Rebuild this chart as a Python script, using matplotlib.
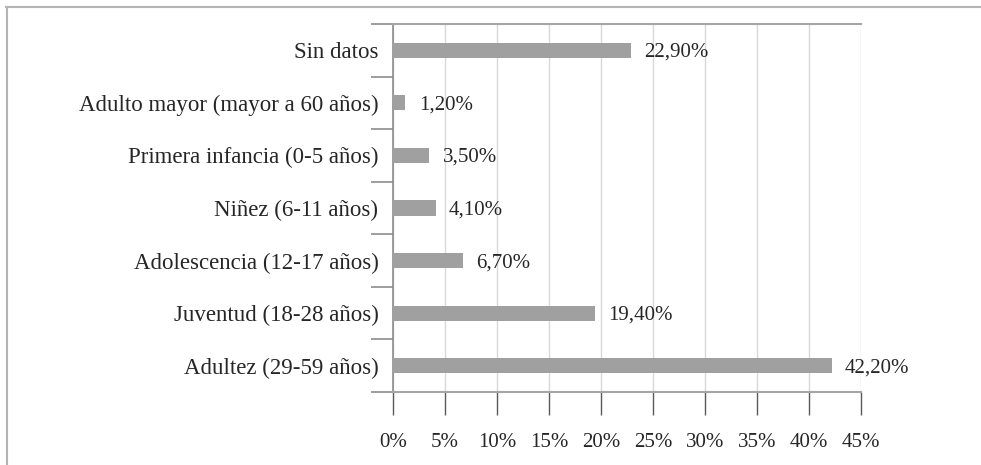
import matplotlib.pyplot as plt
from matplotlib.lines import Line2D
from matplotlib.ticker import FixedLocator

categorias = ['Adultez (29-59 años)', 'Juventud (18-28 años)', 'Adolescencia (12-17 años)',
              'Niñez (6-11 años)', 'Primera infancia (0-5 años)',
              'Adulto mayor (mayor a 60 años)', 'Sin datos']
valores = [42.2, 19.4, 6.7, 4.1, 3.5, 1.2, 22.9]
etiquetas_x = ['0%', '5%', '10%', '15%', '20%', '25%', '30%', '35%', '40%', '45%']

plt.rcParams['font.family'] = ['Liberation Serif', 'DejaVu Serif']

fig = plt.figure(figsize=(9.81, 4.65), dpi=100)
ax = fig.add_axes([393/981, 1-392/465, 468/981, 368/465])

y = range(len(categorias))
ax.barh(y, valores, height=0.29, color='#a0a0a0', zorder=3)
for i, v in enumerate(valores):
    ax.annotate(('%.2f%%' % v).replace('.', ','), (v, i), xytext=(9.5, -1.5),
                textcoords='offset points', va='center', ha='left',
                fontsize=15, color='#262626')

ax.set_xlim(0, 45)
ax.set_ylim(-0.5, len(categorias) - 0.5)
ax.set_xticks([5 * k for k in range(len(etiquetas_x))])
ax.set_xticklabels(etiquetas_x, fontsize=15, color='#262626')
ax.set_yticks(list(y))
ax.set_yticklabels(categorias, fontsize=16.5, color='#262626')
ax.yaxis.set_minor_locator(FixedLocator([k - 0.5 for k in range(len(categorias) + 1)]))

ax.tick_params(axis='y', which='major', length=0, pad=10.5)
ax.tick_params(axis='y', which='minor', length=15.8, width=1.2, color='#8c8c8c')
ax.tick_params(axis='x', length=16.5, width=1, color='#595959', pad=13)

ax.grid(axis='x', color='#d9d9d9', linewidth=1, zorder=0)
for s in ['top', 'bottom']:
    ax.spines[s].set_color('#a6a6a6')
    ax.spines[s].set_linewidth(1.5)
ax.spines['left'].set_color('#8c8c8c')
ax.spines['left'].set_linewidth(1.2)
ax.spines['right'].set_visible(False)

# marco exterior
fig.add_artist(Line2D([6/981, 1], [1-7/465, 1-7/465], color='#b4b4b4', lw=1.5))
fig.add_artist(Line2D([6.5/981, 6.5/981], [0, 1-7/465], color='#b4b4b4', lw=1.5))

plt.savefig('out.png', dpi=100)
